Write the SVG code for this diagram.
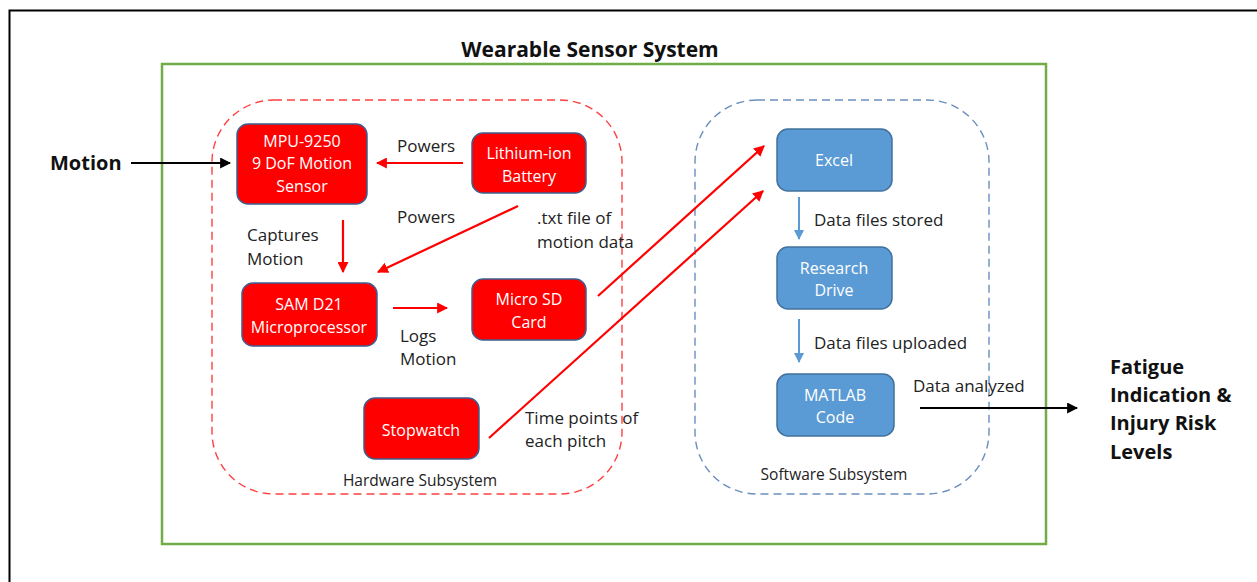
<svg xmlns="http://www.w3.org/2000/svg" width="1257" height="582" viewBox="0 0 1257 582">
<defs>
<style>
text{font-family:"Open Sans","Liberation Sans",sans-serif;}
.lbl{font-size:17px;fill:#222;}
.small{font-size:15.5px;fill:#222;text-anchor:middle;}
.big{font-size:20px;font-weight:bold;fill:#111;}
.title{font-size:21px;font-weight:bold;fill:#111;text-anchor:middle;}
.rbox{fill:#FF0000;stroke:#3F5E8F;stroke-width:1.5;}
.bbox{fill:#5B9BD5;stroke:#41719C;stroke-width:1.5;}
.bt{font-size:16px;fill:#fff;text-anchor:middle;}
.red{stroke:#FF0000;stroke-width:2.2;fill:none;marker-end:url(#ar);}
.blue{stroke:#5B9BD5;stroke-width:2;fill:none;marker-end:url(#ab);}
.blk{stroke:#000;stroke-width:2.2;fill:none;marker-end:url(#ak);}
</style>
<marker id="ar" viewBox="0 0 10 10" refX="9" refY="5" markerWidth="5" markerHeight="5" orient="auto"><path d="M0,0 L10,5 L0,10 Z" fill="#FF0000"/></marker>
<marker id="ab" viewBox="0 0 10 10" refX="9" refY="5" markerWidth="5" markerHeight="5" orient="auto"><path d="M0,0 L10,5 L0,10 Z" fill="#5B9BD5"/></marker>
<marker id="ak" viewBox="0 0 10 10" refX="9" refY="5" markerWidth="5" markerHeight="5" orient="auto"><path d="M0,0 L10,5 L0,10 Z" fill="#000"/></marker>
</defs>
<rect width="1257" height="582" fill="#fff"/>
<path d="M9.5,582 V10.5 H1257" fill="none" stroke="#000" stroke-width="2"/>
<g id="system">
<rect x="162" y="64" width="884" height="480" fill="none" stroke="#70AD47" stroke-width="2.5"/>
<text x="590" y="57" class="title">Wearable Sensor System</text>
</g>
<g id="hardware">
<rect x="212" y="100" width="410" height="394" rx="62" fill="none" stroke="#FF4040" stroke-width="1.4" stroke-dasharray="8,5"/>
<text x="420" y="486" class="small">Hardware Subsystem</text>
</g>
<g id="software">
<rect x="695" y="100" width="294" height="394" rx="62" fill="none" stroke="#6A8EBF" stroke-width="1.4" stroke-dasharray="8,5"/>
<text x="834" y="480" class="small">Software Subsystem</text>
</g>
<g id="mpu">
<rect x="237" y="124" width="130" height="80" rx="11" class="rbox"/>
<text class="bt"><tspan x="302" y="147">MPU-9250</tspan><tspan x="302" y="169">9 DoF Motion</tspan><tspan x="302" y="192">Sensor</tspan></text>
</g>
<g id="battery">
<rect x="472" y="133" width="114" height="60" rx="11" class="rbox"/>
<text class="bt"><tspan x="529" y="159">Lithium-ion</tspan><tspan x="529" y="182">Battery</tspan></text>
</g>
<g id="samd21">
<rect x="242" y="283" width="135" height="63" rx="11" class="rbox"/>
<text class="bt"><tspan x="309" y="310">SAM D21</tspan><tspan x="309" y="333">Microprocessor</tspan></text>
</g>
<g id="microsd">
<rect x="472" y="279" width="114" height="61" rx="11" class="rbox"/>
<text class="bt"><tspan x="529" y="305">Micro SD</tspan><tspan x="529" y="328">Card</tspan></text>
</g>
<g id="stopwatch">
<rect x="364" y="398" width="115" height="61" rx="11" class="rbox"/>
<text class="bt" x="421" y="436">Stopwatch</text>
</g>
<g id="excel">
<rect x="777" y="129" width="115" height="62" rx="11" class="bbox"/>
<text class="bt" x="834" y="166">Excel</text>
</g>
<g id="drive">
<rect x="777" y="247" width="115" height="62" rx="11" class="bbox"/>
<text class="bt"><tspan x="834" y="274">Research</tspan><tspan x="834" y="296">Drive</tspan></text>
</g>
<g id="matlab">
<rect x="777" y="374" width="117" height="62" rx="11" class="bbox"/>
<text class="bt"><tspan x="835" y="401">MATLAB</tspan><tspan x="835" y="423">Code</tspan></text>
</g>
<g id="inputs">
<text x="50" y="170" class="big">Motion</text>
<text class="big"><tspan x="1110" y="374">Fatigue</tspan><tspan x="1110" y="402">Indication &amp;</tspan><tspan x="1110" y="430">Injury Risk</tspan><tspan x="1110" y="459">Levels</tspan></text>
</g>
<g id="connectors">
<line x1="131" y1="163" x2="230" y2="163" class="blk"/>
<line x1="463" y1="163" x2="377" y2="163" class="red"/>
<line x1="343" y1="220" x2="343" y2="272" class="red"/>
<line x1="518" y1="206" x2="378" y2="272" class="red"/>
<line x1="393" y1="308" x2="447" y2="308" class="red"/>
<line x1="598" y1="296" x2="764" y2="146" class="red"/>
<line x1="489" y1="438" x2="763" y2="191" class="red"/>
<line x1="799" y1="197" x2="799" y2="239" class="blue"/>
<line x1="799" y1="319" x2="799" y2="362" class="blue"/>
<line x1="920" y1="408" x2="1077" y2="408" class="blk"/>
<text x="397" y="152" class="lbl">Powers</text>
<text x="397" y="223" class="lbl">Powers</text>
<text class="lbl"><tspan x="247" y="241">Captures</tspan><tspan x="247" y="265">Motion</tspan></text>
<text class="lbl"><tspan x="537" y="224">.txt file of</tspan><tspan x="537" y="248">motion data</tspan></text>
<text class="lbl"><tspan x="400" y="342">Logs</tspan><tspan x="400" y="365">Motion</tspan></text>
<text class="lbl"><tspan x="525" y="424">Time points of</tspan><tspan x="525" y="447">each pitch</tspan></text>
<text x="814" y="226" class="lbl">Data files stored</text>
<text x="814" y="349" class="lbl">Data files uploaded</text>
<text x="913" y="392" class="lbl">Data analyzed</text>
</g>
</svg>
